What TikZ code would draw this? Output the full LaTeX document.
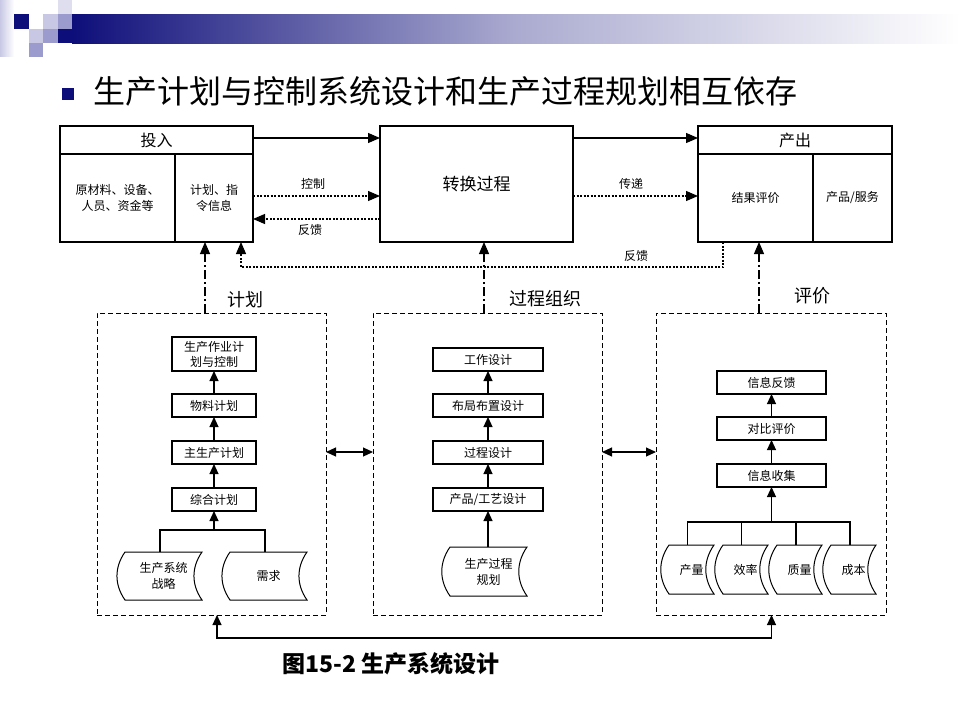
\documentclass[tikz,border=0pt]{standalone}
\usepackage{fontspec}
\setmainfont{Noto Sans CJK SC}
\usetikzlibrary{arrows.meta,calc}
\definecolor{navy}{RGB}{14,14,122}
\definecolor{lav1}{RGB}{222,222,238}
\definecolor{lav2}{RGB}{200,200,228}
\definecolor{lav3}{RGB}{155,155,205}
\newcommand\tapeoutline[1]{\draw[line width=1pt] (#1.north west) -- (#1.north east) to[bend right=35] (#1.south east) -- (#1.south west) to[bend left=35] (#1.north west) -- cycle;}
\begin{document}
\begin{tikzpicture}[x=1pt,y=-1pt,
  box/.style={draw,line width=1.1pt,inner sep=0pt,outer sep=0pt,align=center,font=\fontsize{12}{16}\selectfont},
  sbox/.style={draw,line width=1.1pt,inner sep=0pt,outer sep=0pt,align=center,minimum height=23pt,font=\fontsize{12}{15}\selectfont},
  tapenode/.style={inner sep=0pt,outer sep=0pt,align=center,minimum height=48pt,font=\fontsize{12}{16}\selectfont},
  dbox/.style={draw,line width=0.9pt,dash pattern=on 5pt off 3pt,inner sep=0pt,outer sep=0pt,minimum width=229pt,minimum height=302pt},
  lbl/.style={inner sep=0pt,font=\fontsize{12}{14}\selectfont},
  grp/.style={inner sep=0pt,font=\fontsize{18}{20}\selectfont},
  arrL/.style={line width=1.1pt,-{Triangle[length=12pt,width=10pt]}},
  arrS/.style={line width=1.1pt,-{Triangle[length=10pt,width=9pt]}},
  dbl/.style={line width=1.1pt,{Triangle[length=10pt,width=9pt]}-{Triangle[length=10pt,width=9pt]}},
  dotl/.style={line width=1.1pt,dash pattern=on 2pt off 1.5pt},
  ddot/.style={line width=1.1pt,dash pattern=on 9pt off 3pt on 2pt off 3pt},
  plain/.style={line width=1.1pt}]
\useasboundingbox (0,0) rectangle (960,720);
\fill[white] (0,0) rectangle (960,720);
% decoration
\shade[left color=lav2,right color=white] (0,0) rectangle (14,56);
\shade[left color=navy,right color=white,middle color=navy!35!white] (72,14) rectangle (960,43);
\fill[navy] (58,29) rectangle (72,43);
\fill[navy] (14,14) rectangle (29,29);
\fill[lav2] (43,14) rectangle (58,29);
\fill[lav1] (58,0) rectangle (72,14);
\fill[lav3] (58,14) rectangle (72,29);
\fill[lav2] (29,29) rectangle (43,43);
\fill[lav3] (43,29) rectangle (58,43);
\fill[lav3] (29,43) rectangle (43,57);
% title
\fill[navy] (62,88) rectangle (74,100);
\node[anchor=west,inner sep=0pt,font=\fontsize{32}{34}\selectfont] (title) at (93,91) {生产计划与控制系统设计和生产过程规划相互依存};
% top boxes
\node[box,minimum width=193pt,minimum height=28pt,font=\fontsize{16}{18}\selectfont] (inH) at (156.5,140) {投入};
\node[box,minimum width=115pt,minimum height=88pt] (inA) at (117.5,198) {原材料、设备、\\人员、资金等};
\node[box,minimum width=78pt,minimum height=88pt] (inB) at (214,198) {计划、指\\令信息};
\node[box,minimum width=193pt,minimum height=116pt,font=\fontsize{17}{19}\selectfont] (tr) at (476.5,184) {转换过程};
\node[box,minimum width=194pt,minimum height=28pt,font=\fontsize{16}{18}\selectfont] (outH) at (795,140) {产出};
\node[box,minimum width=115pt,minimum height=88pt] (outA) at (755.5,198) {结果评价};
\node[box,minimum width=79pt,minimum height=88pt] (outB) at (852.5,198) {产品/服务};
% top connectors
\draw[arrL] ($(inH.east)+(0,-2)$) -- ($(inH.east -| tr.west)+(0,-2)$);
\draw[arrL] ($(tr.east |- inH.east)+(0,-2)$) -- ($(outH.west)+(0,-2)$);
\draw[dotl,arrL] ($(inB.east)+(0,-2)$) -- ($(inB.east -| tr.west)+(0,-2)$);
\draw[dotl,arrL] ($(tr.west |- inB.east)+(0,21)$) -- ($(inB.east)+(0,21)$);
\draw[dotl,arrL] ($(tr.east |- outA.west)+(0,-2)$) -- ($(outA.west)+(0,-2)$);
\node[lbl] (l1) at (313,184) {控制};
\node[lbl] (l2) at (310,230) {反馈};
\node[lbl] (l3) at (631,184) {传递};
\node[lbl] (l4) at (636,256) {反馈};
\coordinate (fbR) at (723,267);
\coordinate (fbL) at (241,267);
\draw[dotl,arrL] (outA.south -| fbR) -- (fbR) -- (fbL) -- (fbL |- inB.south);
% dashed groups
\node[dbox] (plan) at (211.5,464) {};
\node[dbox] (org) at (487.5,464) {};
\node[dbox,minimum width=230pt] (eval) at (771,464) {};
\node[grp] (gl1) at (245,300) {计划};
\node[grp] (gl2) at (545.5,299) {过程组织};
\node[grp] (gl3) at (812,296) {评价};
\coordinate (v1) at (205,313);
\coordinate (v2) at (484,313);
\coordinate (v3) at (759,313);
\draw[ddot,arrL] (v1) -- (v1 |- inB.south);
\draw[ddot,arrL] (v2) -- (v2 |- tr.south);
\draw[ddot,arrL] (v3) -- (v3 |- outA.south);
\draw[dbl] ($(plan.east)+(0,-12)$) -- ($(org.west)+(0,-12)$);
\draw[dbl] ($(org.east)+(0,-12)$) -- ($(eval.west)+(0,-12)$);
\coordinate (bl) at (217,638);
\coordinate (br) at (771.5,638);
\draw[dbl] (bl |- plan.south) -- (bl) -- (br) -- (br |- eval.south);
% plan stack
\node[sbox,minimum width=84pt,minimum height=34pt] (p1) at (214,354) {生产作业计\\划与控制};
\node[sbox,minimum width=84pt] (p2) at (214,405.5) {物料计划};
\node[sbox,minimum width=84pt] (p3) at (214,452.5) {主生产计划};
\node[sbox,minimum width=84pt] (p4) at (214,499.5) {综合计划};
\draw[arrS] (p2) -- (p1);
\draw[arrS] (p3) -- (p2);
\draw[arrS] (p4) -- (p3);
\node[tapenode,minimum width=77pt] (t1) at (163.5,576) {生产系统\\战略};
\node[tapenode,minimum width=77pt] (t2) at (268.5,576) {需求};
\tapeoutline{t1}
\tapeoutline{t2}
\coordinate (pj) at (214,530);
\coordinate (pa) at (160,530);
\coordinate (pb) at (265,530);
\draw[plain] (pa |- t1.north) -- (pa) -- (pb) -- (pb |- t2.north);
\draw[arrS] (pj) -- (p4.south);
% org stack
\node[sbox,minimum width=110pt] (o1) at (488,359.5) {工作设计};
\node[sbox,minimum width=110pt] (o2) at (488,405.5) {布局布置设计};
\node[sbox,minimum width=110pt] (o3) at (488,452.5) {过程设计};
\node[sbox,minimum width=110pt] (o4) at (488,499.5) {产品/工艺设计};
\draw[arrS] (o2) -- (o1);
\draw[arrS] (o3) -- (o2);
\draw[arrS] (o4) -- (o3);
\node[tapenode,minimum width=77pt,minimum height=49pt] (ot) at (488.5,571.5) {生产过程\\规划};
\tapeoutline{ot}
\draw[arrS] (o4.south |- ot.north) -- (o4.south);
% eval stack
\node[sbox,minimum width=109pt] (e1) at (771.5,382.5) {信息反馈};
\node[sbox,minimum width=109pt] (e2) at (771.5,428.5) {对比评价};
\node[sbox,minimum width=109pt] (e3) at (771.5,475.5) {信息收集};
\draw[arrS] (e2) -- (e1);
\draw[arrS] (e3) -- (e2);
\node[tapenode,minimum width=45pt,minimum height=49pt] (q1) at (691.5,569.5) {产量};
\node[tapenode,minimum width=45pt,minimum height=49pt] (q2) at (745.5,569.5) {效率};
\node[tapenode,minimum width=45pt,minimum height=49pt] (q3) at (799.5,569.5) {质量};
\node[tapenode,minimum width=45pt,minimum height=49pt] (q4) at (853.5,569.5) {成本};
\tapeoutline{q1}
\tapeoutline{q2}
\tapeoutline{q3}
\tapeoutline{q4}
\coordinate (ej) at (771.5,522);
\coordinate (ea) at (687.5,522);
\coordinate (eb) at (741.5,522);
\coordinate (ec) at (796,522);
\coordinate (ed) at (850,522);
\draw[plain] (ea |- q1.north) -- (ea) -- (ed) -- (ed |- q4.north);
\draw[plain] (eb |- q2.north) -- (eb);
\draw[plain] (ec |- q3.north) -- (ec);
\draw[arrS] (ej) -- (e3.south);
% caption
\node[anchor=west,inner sep=0pt,font=\fontsize{23}{25}\selectfont\bfseries] (cap) at (282,664) {图15-2 生产系统设计};
\end{tikzpicture}
\end{document}
